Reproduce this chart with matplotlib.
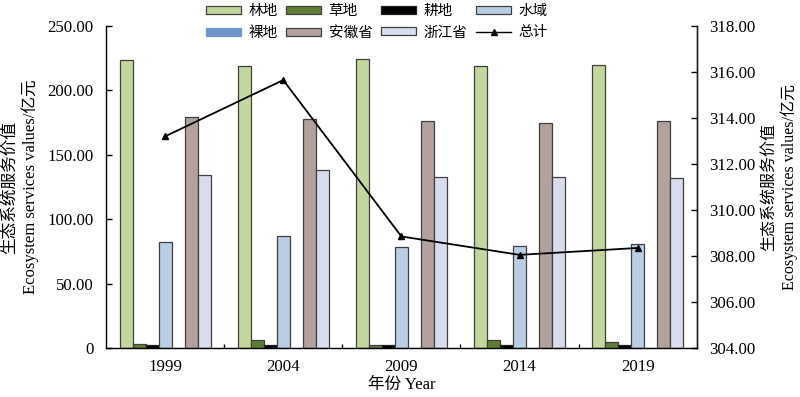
import matplotlib
matplotlib.use("Agg")
import matplotlib.pyplot as plt
import numpy as np
from matplotlib.patches import Patch
from matplotlib.lines import Line2D

plt.rcParams['font.family'] = ['Liberation Serif', 'Noto Sans CJK SC']

years = ['1999', '2004', '2009', '2014', '2019']
series_names = ['林地', '草地', '耕地', '水域', '裸地', '安徽省', '浙江省']
forest = [223.5, 219.0, 224.0, 219.0, 219.5]
grass = [3.5, 6.0, 2.5, 6.0, 4.5]
farmland = [2.0, 2.0, 2.0, 2.0, 2.0]
water = [82.5, 87.0, 78.5, 79.0, 80.5]
bare = [0.05, 0.05, 0.05, 0.05, 0.05]
anhui = [179.0, 177.5, 176.0, 175.0, 176.5]
zhejiang = [134.0, 138.0, 133.0, 133.0, 132.0]
total = [313.2, 315.65, 308.85, 308.05, 308.35]

colors = ['#C3D69B', '#5E7F32', '#000000', '#B9CDE5', '#6F97CB', '#B2A19C', '#D9DCEC']
edges = ['#404040', '#404040', '#202020', '#404040', '#6F97CB', '#404040', '#404040']

fig = plt.figure(figsize=(8, 3.97), dpi=100)
ax = fig.add_axes([0.1325, 0.1234, 0.7385, 0.8111])
x = np.arange(len(years))
w = 0.11
data = [forest, grass, farmland, water, bare, anhui, zhejiang]
for i, (vals, c, e) in enumerate(zip(data, colors, edges)):
    ax.bar(x + (i - 3) * w, vals, width=w, color=c, edgecolor=e, linewidth=0.9, zorder=2)

ax.set_xlim(-0.5, 4.5)
ax.set_ylim(0, 250)
ax.set_yticks([0, 50, 100, 150, 200, 250])
ax.set_yticklabels(['0', '50.00', '100.00', '150.00', '200.00', '250.00'])
ax.set_xticks(x)
ax.set_xticklabels(years)
ax.set_xticks([0.5, 1.5, 2.5, 3.5], minor=True)
ax.tick_params(axis='x', which='major', length=0, labelsize=12.2, pad=8)
ax.tick_params(axis='x', which='minor', length=3, direction='in', width=1)
ax.tick_params(axis='y', direction='in', length=4, width=1, labelsize=12.2, pad=9)
ax.spines['top'].set_visible(False)
for s in ['left', 'bottom', 'right']:
    ax.spines[s].set_linewidth(1.0)
    ax.spines[s].set_color('#222222')
ax.set_xlabel('年份 Year', fontsize=12, labelpad=1)
ax.set_ylabel('生态系统服务价值\nEcosystem services values/亿元', fontsize=12, labelpad=6, linespacing=1.25)

ax2 = ax.twinx()
ax2.plot(x, total, color='black', linewidth=1.3, marker='^', markersize=5, zorder=5)
ax2.set_ylim(304, 318)
ax2.set_yticks(np.arange(304, 318.1, 2))
ax2.set_yticklabels(['%.2f' % v for v in np.arange(304, 318.1, 2)])
ax2.tick_params(axis='y', direction='in', length=4, width=1, labelsize=12.2, pad=9)
ax2.spines['top'].set_visible(False)
ax2.spines['right'].set_linewidth(1.0)
ax2.spines['right'].set_color('#222222')
ax2.set_ylabel('生态系统服务价值\nEcosystem services values/亿元', fontsize=11.5, rotation=90, labelpad=4, linespacing=1.2)

handles = []
for name, c, e in zip(series_names, colors, edges):
    handles.append(Patch(facecolor=c, edgecolor=e, linewidth=0.9, label=name))
handles.append(Line2D([0], [0], color='black', linewidth=1.0, marker='^', markersize=5, label='总计'))
order = [0, 4, 1, 5, 2, 6, 3, 7]
fig.legend(handles=[handles[k] for k in order], ncol=4, loc='upper center', bbox_to_anchor=(0.471, 1.02),
           frameon=False, fontsize=10.5, handlelength=2.4, handleheight=0.45,
           columnspacing=0.6, handletextpad=0.5, labelspacing=0.55)

fig.savefig('out.png', dpi=100)
